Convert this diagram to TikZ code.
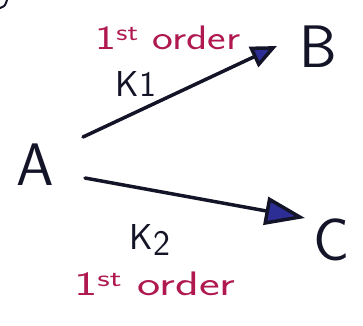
\documentclass[tikz,border=0pt]{standalone}
\usetikzlibrary{arrows.meta}
\definecolor{ink}{RGB}{20,20,40}
\definecolor{pen}{RGB}{175,25,80}
\definecolor{headblue}{RGB}{45,45,150}
\tikzset{
  letter/.style={inner sep=0pt, text=ink, font=\sffamily\fontsize{60}{62}\selectfont},
  rate/.style={inner sep=0pt, text=ink, font=\sffamily\fontsize{36}{38}\selectfont},
  ordertext/.style={inner sep=0pt, text=pen, font=\sffamily\fontsize{34}{36}\selectfont},
  react/.style={draw=ink, line width=3.5pt, line cap=round},
}
\begin{document}
\begin{tikzpicture}[x=1pt,y=-1pt]
\useasboundingbox (0,0) rectangle (363,325);
\node[letter] (A) at (35,165) {A};
\node[letter] (B) at (318,47) {B};
\node[letter] (C) at (332,240) {C};
\node[rate] (k1) at (136,84) {K1};
\node[rate] (k2) at (150,240) {K\raisebox{-0.15em}{2}};
\node[ordertext, xscale=1.3] (o1) at (168,38) {1\textsuperscript{st} order};
\node[ordertext, xscale=1.45] (o2) at (155,284) {1\textsuperscript{st} order};
\coordinate (s1) at (83,137);
\coordinate (e1) at (277,46);
\coordinate (s2) at (85,178);
\coordinate (e2) at (305,218);
\draw[react, -{Triangle[length=26pt,width=22pt,fill=headblue]}] (s1) -- (e1);
\draw[react, -{Triangle[length=40pt,width=28pt,fill=headblue]}] (s2) -- (e2);
\draw[ink, line width=2pt, line cap=round] (0,8) .. controls (5,6) .. (7,0);
\end{tikzpicture}
\end{document}
